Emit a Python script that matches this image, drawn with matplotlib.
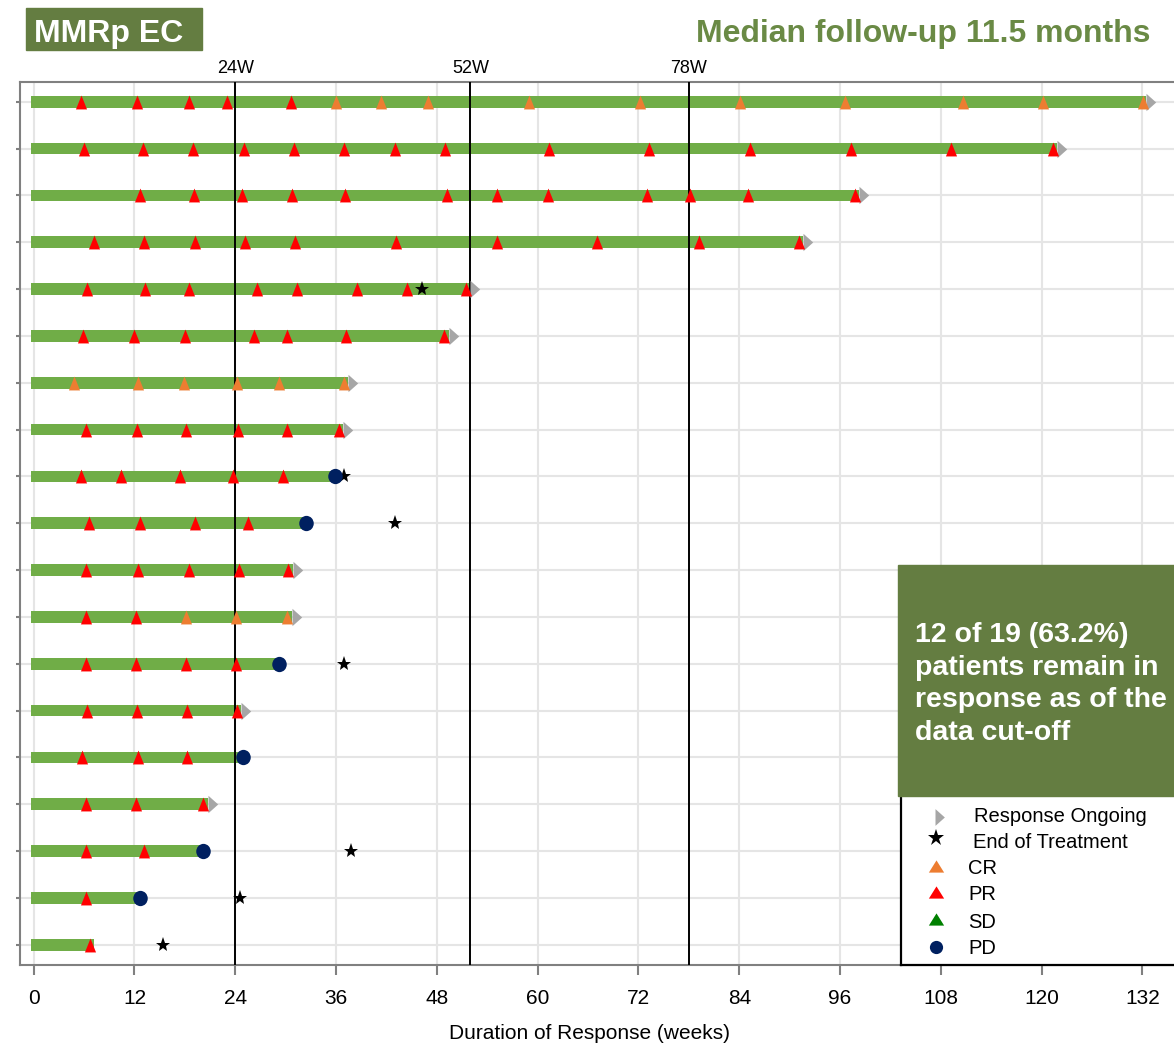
import matplotlib.pyplot as plt
from matplotlib.path import Path
from matplotlib.patches import Rectangle
from matplotlib.transforms import Affine2D

plt.rcParams["font.family"] = ["Liberation Sans", "DejaVu Sans"]

# duration of response per patient in weeks, top row first
durations = [132.4, 121.8, 98.2, 91.6, 52.0, 49.4, 37.4, 36.8, 35.9, 32.4,
             30.9, 30.7, 29.2, 24.7, 24.9, 20.7, 20.1, 12.7, 7.2]
ongoing = [True, True, True, True, True, True, True, True, False, False,
           True, True, False, True, False, True, False, False, False]
pd_week = [None, None, None, None, None, None, None, None, 35.9, 32.4,
           None, None, 29.2, None, 24.9, None, 20.1, 12.7, None]
eot_week = [None, None, None, None, 46.2, None, None, None, 36.9, 43.0,
            None, None, 37.0, None, None, None, 37.8, 24.6, 15.4]
cr_weeks = [
    [36.0, 41.4, 47.0, 59.0, 72.2, 84.1, 96.6, 110.6, 120.2, 132.1],
    [], [], [], [], [],
    [4.8, 12.4, 17.9, 24.2, 29.2, 36.9],
    [], [], [], [],
    [18.1, 24.1, 30.1],
    [], [], [], [], [], [], [],
]
pr_weeks = [
    [5.6, 12.3, 18.5, 23.0, 30.6],
    [6.0, 13.0, 19.0, 25.0, 31.0, 37.0, 43.0, 49.0, 61.3, 73.2, 85.3, 97.3, 109.2, 121.3],
    [12.7, 19.1, 24.8, 30.8, 37.1, 49.2, 55.1, 61.2, 73.0, 78.1, 85.0, 97.8],
    [7.2, 13.1, 19.2, 25.1, 31.1, 43.1, 55.1, 67.1, 79.2, 91.1],
    [6.3, 13.3, 18.5, 26.6, 31.3, 38.5, 44.5, 51.5],
    [5.9, 12.0, 18.0, 26.2, 30.2, 37.2, 48.9],
    [],
    [6.2, 12.3, 18.1, 24.3, 30.2, 36.3],
    [5.6, 10.4, 17.4, 23.7, 29.7],
    [6.6, 12.6, 19.2, 25.5],
    [6.2, 12.4, 18.5, 24.5, 30.3],
    [6.2, 12.2],
    [6.2, 12.2, 18.1, 24.1],
    [6.3, 12.3, 18.2, 24.2],
    [5.7, 12.4, 18.3],
    [6.2, 12.2, 20.1],
    [6.2, 13.1],
    [6.2],
    [6.7],
]
milestones = [24, 52, 78]
xticks = list(range(0, 133, 12))

BAR = "#70AD47"
OLIVE = "#647D41"
CR_COL = "#ED7D31"
PR_COL = "#FF0000"
SD_COL = "#008000"
PD_COL = "#002060"
ARROW_COL = "#A6A6A6"
GRID = "#E5E5E5"
SPINE = "#808080"

# custom marker shapes (tall triangle, arrow head with base at origin, oval)
tri = Path([(-0.4, -0.5), (0.4, -0.5), (0, 0.5), (-0.4, -0.5)],
           [Path.MOVETO, Path.LINETO, Path.LINETO, Path.CLOSEPOLY])
arrow = Path([(0, -0.5), (0.56, 0), (0, 0.5), (0, -0.5)],
             [Path.MOVETO, Path.LINETO, Path.LINETO, Path.CLOSEPOLY])
oval = Path.unit_circle().transformed(Affine2D().scale(0.95, 1.0))
leg_tri = Path([(-0.5, -0.4), (0.5, -0.4), (0, 0.4), (-0.5, -0.4)],
               [Path.MOVETO, Path.LINETO, Path.LINETO, Path.CLOSEPOLY])

W, H = 1174, 1047
fig = plt.figure(figsize=(W / 100, H / 100), dpi=100)
ax = fig.add_axes([20 / W, 1 - 965 / H, 1160 / W, (965 - 82) / H])

rows = list(range(1, len(durations) + 1))
start = -0.35
ax.barh(rows, [d - start for d in durations], left=start, height=0.25,
        color=BAR, zorder=2)

for w in milestones:
    ax.axvline(w, color="black", lw=1.4, zorder=3)
    ax.annotate(f"{w}W", xy=(w, 1), xycoords=("data", "axes fraction"),
                xytext=(0, 3.5), textcoords="offset points",
                ha="center", va="bottom", fontsize=13)

for y, d, on, pdw, eot, cr, pr in zip(rows, durations, ongoing, pd_week,
                                      eot_week, cr_weeks, pr_weeks):
    if on:
        ax.plot(d, y, marker=arrow, ms=14, color=ARROW_COL, mew=0,
                ls="none", zorder=4)
    if pr:
        ax.plot(pr, [y] * len(pr), marker=tri, ms=10, color=PR_COL, mew=0,
                ls="none", zorder=5)
    if cr:
        ax.plot(cr, [y] * len(cr), marker=tri, ms=10, color=CR_COL, mew=0,
                ls="none", zorder=5)
    if eot is not None:
        ax.plot(eot, y, marker="*", ms=11, color="black", mew=0,
                ls="none", zorder=5)
    if pdw is not None:
        ax.plot(pdw, y, marker=oval, ms=11, color=PD_COL, mew=0,
                ls="none", zorder=6)

ax.set_xlim(-1.63, -1.63 + 1160 / 8.4)
ax.set_ylim(19.43, 0.58)
ax.set_xticks(xticks)
ax.set_yticks(rows)
ax.grid(color=GRID, lw=1.5)
ax.set_axisbelow(True)
ax.tick_params(axis="x", length=7, width=1.5, color=SPINE, pad=10,
               labelsize=15)
ax.tick_params(axis="y", length=3, width=1.5, color=SPINE, labelleft=False)
for side in ["left", "top", "bottom"]:
    ax.spines[side].set_color(SPINE)
    ax.spines[side].set_linewidth(1.5)
ax.spines["right"].set_visible(False)

fig.text(590 / W, 1 - 1039 / H, "Duration of Response (weeks)",
         ha="center", va="baseline", fontsize=15)

# header boxes
fig.patches.append(Rectangle((26 / W, 1 - 50 / H), 176 / W, 42 / H,
                             transform=fig.transFigure, color=OLIVE))
fig.text(34 / W, 1 - 42 / H, "MMRp EC", color="white", fontsize=23,
         fontweight="bold", va="baseline")
fig.text(1151 / W, 1 - 42 / H, "Median follow-up 11.5 months", color="#6A8A45",
         fontsize=23, fontweight="bold", ha="right", va="baseline")

# legend panel
lax = fig.add_axes([901 / W, 1 - 965 / H, (1190 - 901) / W, (965 - 796) / H])
lax.set_xlim(901, 1190)
lax.set_ylim(965, 796)
lax.set_xticks([])
lax.set_yticks([])
for side in ["top", "right"]:
    lax.spines[side].set_visible(False)
for side in ["left", "bottom"]:
    lax.spines[side].set_color("black")
    lax.spines[side].set_linewidth(1.6)

lax.plot(935, 817, marker=arrow, ms=13.5, color=ARROW_COL, mew=0)
lax.plot(936, 838, marker="*", ms=12.5, color="black", mew=0)
lax.plot(936, 866, marker=leg_tri, ms=11, color=CR_COL, mew=0)
lax.plot(936, 892, marker=leg_tri, ms=11, color=PR_COL, mew=0)
lax.plot(936, 919, marker=leg_tri, ms=11, color=SD_COL, mew=0)
lax.plot(936, 947, marker="o", ms=9.5, color=PD_COL, mew=0)
legend_labels = ["Response Ongoing", "End of Treatment", "CR", "PR", "SD", "PD"]
legend_x = [974, 973, 968, 968, 968, 968]
legend_y = [817, 843, 869, 895, 923, 948]
for lx, ly, lab in zip(legend_x, legend_y, legend_labels):
    lax.text(lx, ly, lab, fontsize=14.5, va="center")

# summary box
fig.patches.append(Rectangle((898 / W, 1 - 796 / H), (1190 - 898) / W,
                             (796 - 565) / H, transform=fig.transFigure,
                             color=OLIVE, zorder=5))
summary = ["12 of 19 (63.2%)", "patients remain in", "response as of the",
           "data cut-off"]
for i, line in enumerate(summary):
    fig.text(915 / W, 1 - (642 + 32.7 * i) / H, line, color="white",
             fontsize=20.5, fontweight="bold", va="baseline", zorder=6)

fig.savefig("out.png", dpi=100)
